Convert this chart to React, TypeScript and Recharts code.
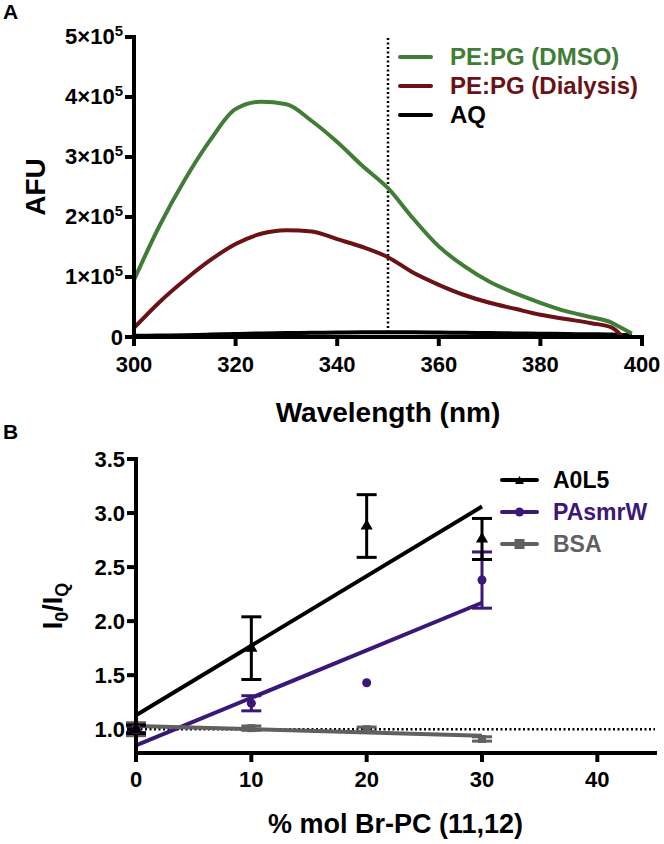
import React from "react";
import {
  LineChart,
  Line,
  ComposedChart,
  Scatter,
  ErrorBar,
  XAxis,
  YAxis,
  ReferenceLine,
} from "recharts";

const FONT = "'Liberation Sans', Arial, Helvetica, sans-serif";

// Panel A: emission spectra
const wavelengths = [300, 305, 310, 315, 320, 325, 330, 335, 340, 345, 350, 355, 360, 365, 370, 375, 380, 385, 390, 394, 396, 398];
const dmso = [95000, 185000, 262000, 328000, 380000, 392000, 388000, 360000, 325000, 285000, 248000, 197000, 151000, 118000, 92000, 73000, 57000, 43000, 33000, 24000, 15000, 6000];
const dialysis = [15000, 58000, 95000, 128000, 155000, 172000, 178000, 176000, 163000, 150000, 133000, 107000, 87000, 70000, 57000, 47000, 37000, 30000, 23000, 16000, 2000, null];
const aq = [2000, 2500, 3000, 4000, 5000, 6000, 6500, 7000, 7500, 8000, 8000, 8000, 7500, 7000, 6500, 6000, 5500, 5000, 4500, 4000, 3500, 3000];
const afuTicks = [0, 100000, 200000, 300000, 400000, 500000];
const wlTicks = [300, 320, 340, 360, 380, 400];

// Panel B: quenching by brominated PC
const brPc = [0, 10, 20, 30];
const a0l5Mean = [1.0, 1.75, 2.88, 2.76];
const a0l5Err = [0.04, 0.29, 0.29, 0.19];
const pasmrMean = [1.0, 1.24, 1.43, 2.38];
const pasmrErr = [0.03, 0.07, 0, 0.26];
const bsaMean = [1.0, 1.01, 1.0, 0.91];
const bsaErr = [0.06, 0.02, 0.02, 0.02];
const fitX = [0, 30];
const a0l5Fit = [1.13, 3.06];
const pasmrFit = [0.85, 2.17];
const bsaFit = [1.03, 0.94];
const ratioTicks = [1.0, 1.5, 2.0, 2.5, 3.0, 3.5];
const pctTicks = [0, 10, 20, 30, 40];

const GREEN = "#417d36";
const RED = "#6a1216";
const PURPLE = "#3a1878";
const GREY = "#606060";

const spectra = wavelengths.map((w, i) => ({ x: w, dmso: dmso[i], dialysis: dialysis[i], aq: aq[i] }));
const pts = (means: number[], errs: number[]) => brPc.map((x, i) => ({ x, y: means[i], err: errs[i] || null }));
const fit = (ys: number[]) => fitX.map((x, i) => ({ x, y: ys[i] }));

const axisLine = { stroke: "#000", strokeWidth: 4, strokeLinecap: "square" as const };
const tickLine = { stroke: "#000", strokeWidth: 4 };
const tickStyle = { fontSize: 22, fontWeight: 700, fill: "#000", fontFamily: FONT };

const AfuTick = (props: any) => {
  const { x, y, payload } = props;
  const v = payload.value;
  if (v === 0) {
    return (
      <text x={x} y={y + 8} textAnchor="end" {...tickStyle}>0</text>
    );
  }
  return (
    <text x={x} y={y + 7} textAnchor="end" fontFamily={FONT} fontWeight={700} fill="#000" fontSize={22}>
      {v / 100000}×10
      <tspan dy={-8} fontSize={15}>5</tspan>
    </text>
  );
};

const legendA = [
  { name: "PE:PG (DMSO)", color: GREEN },
  { name: "PE:PG (Dialysis)", color: RED },
  { name: "AQ", color: "#000" },
];
const legendB = [
  { name: "A0L5", color: "#000", shape: "triangle" },
  { name: "PAsmrW", color: PURPLE, shape: "circle" },
  { name: "BSA", color: GREY, shape: "square" },
];

const Marker = ({ shape, color }: { shape: string; color: string }) => {
  if (shape === "triangle") return <polygon points="17.5,1 22,9 13,9" fill={color} />;
  if (shape === "circle") return <circle cx={17.5} cy={5} r={4.5} fill={color} />;
  return <rect x={12.5} y={0} width={10} height={10} fill={color} />;
};

export default function App() {
  return (
    <div style={{ position: "absolute", left: 0, top: 0, width: 664, height: 844, background: "#fff", fontFamily: FONT }}>
      <div style={{ position: "absolute", left: 3, top: 0, fontSize: 21, fontWeight: 700 }}>A</div>
      <div style={{ position: "absolute", left: 3, top: 420, fontSize: 21, fontWeight: 700 }}>B</div>

      <div style={{ position: "absolute", left: 0, top: 0 }}>
        <LineChart width={664} height={440} data={spectra} margin={{ top: 37, right: 22, left: 0, bottom: 43 }}>
          <XAxis
            dataKey="x"
            type="number"
            domain={[300, 400]}
            ticks={wlTicks}
            height={60}
            axisLine={axisLine}
            tickLine={tickLine}
            tickSize={9}
            tickMargin={10}
            tick={tickStyle}
            label={(p: any) => {
              const vb = p.viewBox;
              return (
                <text x={vb.x + vb.width / 2} y={vb.y + 85} textAnchor="middle" fontSize={28} fontWeight={700} fontFamily={FONT} fill="#000">
                  Wavelength (nm)
                </text>
              );
            }}
          />
          <XAxis xAxisId="top" orientation="top" dataKey="x" type="number" domain={[300, 400]} height={0} tick={false} tickLine={false} axisLine={axisLine} />
          <YAxis
            type="number"
            domain={[0, 500000]}
            ticks={afuTicks}
            width={134}
            axisLine={axisLine}
            tickLine={tickLine}
            tickSize={9}
            tickMargin={2}
            tick={<AfuTick />}
            label={(p: any) => {
              const vb = p.viewBox;
              const cy = vb.y + vb.height / 2;
              return (
                <text x={45} y={cy} transform={`rotate(-90, 45, ${cy})`} textAnchor="middle" fontSize={28} fontWeight={700} fontFamily={FONT} fill="#000">
                  AFU
                </text>
              );
            }}
          />
          <YAxis yAxisId="right" orientation="right" type="number" domain={[0, 500000]} width={0} tick={false} tickLine={false} axisLine={axisLine} />
          <ReferenceLine x={350} stroke="#000" strokeWidth={2.5} strokeDasharray="2 2.5" />
          <Line type="monotone" dataKey="aq" stroke="#000" strokeWidth={4} dot={false} isAnimationActive={false} />
          <Line type="monotone" dataKey="dialysis" stroke={RED} strokeWidth={4} dot={false} isAnimationActive={false} />
          <Line type="monotone" dataKey="dmso" stroke={GREEN} strokeWidth={4} dot={false} isAnimationActive={false} />
        </LineChart>
      </div>

      {legendA.map((d, i) => (
        <div key={d.name} style={{ position: "absolute", left: 398, top: 57 + i * 29 - 15, height: 30, display: "flex", alignItems: "center" }}>
          <div style={{ width: 35, height: 4, borderRadius: 2, background: d.color }} />
          <span style={{ marginLeft: 17, fontSize: 24, fontWeight: 700, color: d.color, whiteSpace: "nowrap" }}>{d.name}</span>
        </div>
      ))}

      <div style={{ position: "absolute", left: 0, top: 420 }}>
        <ComposedChart width={664} height={424} margin={{ top: 39, right: 9, left: 0, bottom: 31 }}>
          <XAxis
            dataKey="x"
            type="number"
            domain={[0, 45]}
            ticks={pctTicks}
            height={60}
            axisLine={axisLine}
            tickLine={tickLine}
            tickSize={9}
            tickMargin={9}
            tick={tickStyle}
            label={(p: any) => {
              const vb = p.viewBox;
              return (
                <text x={vb.x + vb.width / 2} y={vb.y + 80} textAnchor="middle" fontSize={27} fontWeight={700} fontFamily={FONT} fill="#000">
                  % mol Br-PC (11,12)
                </text>
              );
            }}
          />
          <XAxis xAxisId="top" orientation="top" dataKey="x" type="number" domain={[0, 45]} height={0} tick={false} tickLine={false} axisLine={axisLine} />
          <YAxis
            type="number"
            domain={[0.78, 3.5]}
            ticks={ratioTicks}
            allowDataOverflow
            width={136}
            axisLine={axisLine}
            tickLine={tickLine}
            tickSize={9}
            tickMargin={2}
            tick={tickStyle}
            tickFormatter={(v: number) => v.toFixed(1)}
            label={(p: any) => {
              const vb = p.viewBox;
              const cy = vb.y + vb.height / 2;
              return (
                <text x={62} y={cy} transform={`rotate(-90, 62, ${cy})`} textAnchor="middle" fontSize={27} fontWeight={700} fontFamily={FONT} fill="#000">
                  I<tspan dy={6} fontSize={18}>0</tspan>
                  <tspan dy={-6}>/I</tspan>
                  <tspan dy={6} fontSize={18}>Q</tspan>
                </text>
              );
            }}
          />
          <YAxis yAxisId="right" orientation="right" type="number" domain={[0.78, 3.5]} width={0} tick={false} tickLine={false} axisLine={axisLine} />
          <ReferenceLine y={1} stroke="#000" strokeWidth={2.5} strokeDasharray="2 2.5" />
          <Line data={fit(a0l5Fit)} dataKey="y" type="linear" stroke="#000" strokeWidth={4} dot={false} isAnimationActive={false} />
          <Line data={fit(pasmrFit)} dataKey="y" type="linear" stroke={PURPLE} strokeWidth={4} dot={false} isAnimationActive={false} />
          <Line data={fit(bsaFit)} dataKey="y" type="linear" stroke={GREY} strokeWidth={4} dot={false} isAnimationActive={false} />
          <Scatter data={pts(bsaMean, bsaErr)} dataKey="y" shape="square" fill={GREY} size={100} isAnimationActive={false}>
            <ErrorBar dataKey="err" direction="y" width={10} stroke={GREY} strokeWidth={3} />
          </Scatter>
          <Scatter data={pts(pasmrMean, pasmrErr)} dataKey="y" shape="circle" fill={PURPLE} size={70} isAnimationActive={false}>
            <ErrorBar dataKey="err" direction="y" width={10} stroke={PURPLE} strokeWidth={3} />
          </Scatter>
          <Scatter data={pts(a0l5Mean, a0l5Err)} dataKey="y" shape="triangle" fill="#000" size={50} isAnimationActive={false}>
            <ErrorBar dataKey="err" direction="y" width={10} stroke="#000" strokeWidth={3} />
          </Scatter>
        </ComposedChart>
      </div>

      {legendB.map((d, i) => (
        <div key={d.name} style={{ position: "absolute", left: 502, top: 480 + i * 32 - 15, height: 30, display: "flex", alignItems: "center" }}>
          <svg width={35} height={10} style={{ overflow: "visible" }}>
            <line x1={0} y1={5} x2={35} y2={5} stroke={d.color} strokeWidth={4} strokeLinecap="round" />
            <Marker shape={d.shape} color={d.color} />
          </svg>
          <span style={{ marginLeft: 16, fontSize: 23, fontWeight: 700, color: d.color, whiteSpace: "nowrap" }}>{d.name}</span>
        </div>
      ))}
    </div>
  );
}
